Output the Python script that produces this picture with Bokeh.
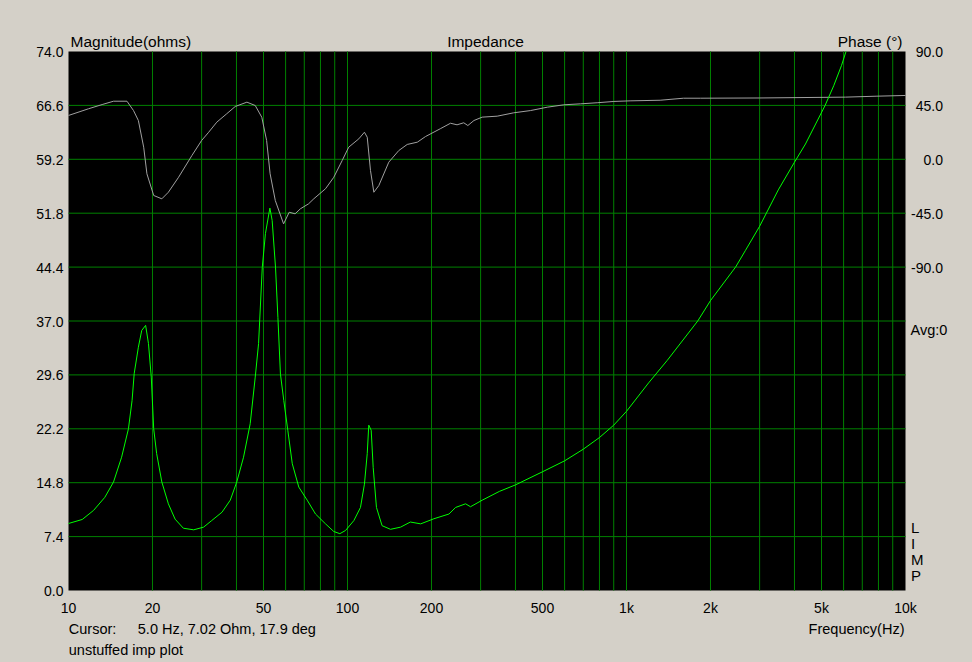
from bokeh.plotting import figure
from bokeh.models import Range1d, Label, GlobalInlineStyleSheet
from bokeh.core.properties import value
from bokeh.embed import file_html
from bokeh.resources import INLINE

# ---------------- data ----------------
X_START, X_END = 10, 10000
MAG_MIN, MAG_MAX = 0.0, 74.0
PH_MIN, PH_MAX = -360.0, 90.0

MAG_TICKS = [0.0, 7.4, 14.8, 22.2, 29.6, 37.0, 44.4, 51.8, 59.2, 66.6, 74.0]
PH_TICKS = [90, 45, 0, -45, -90]
FREQ_TICKS = [10, 20, 50, 100, 200, 500, 1000, 2000, 5000, 10000]
FREQ_LABELS = ["10", "20", "50", "100", "200", "500", "1k", "2k", "5k", "10k"]
FREQ_GRID = [20, 30, 40, 50, 60, 70, 80, 90, 100, 200, 300, 400, 500, 600, 700,
             800, 900, 1000, 2000, 3000, 4000, 5000, 6000, 7000, 8000, 9000]

freq_mag = [10, 11.2, 12.3, 13.5, 14.5, 15.5, 16.4, 16.9, 17.2, 17.8, 18.3, 18.9,
            19.35, 19.8, 20.2, 20.7, 21.6, 22.8, 24.1, 25.8, 28.1, 30.5, 32.6,
            35.5, 38.0, 40.1, 42.4, 44.8, 46.7, 48.0, 49.5, 50.8, 52.7, 53.7,
            55.2, 56.3, 57.5, 59.1, 61.1, 63.4, 66.9, 71.7, 76.8, 83.4, 89.3,
            93.9, 98.4, 105.4, 111.3, 115, 117.7, 119.2, 121.6, 123.6, 127, 133,
            142.6, 155, 168, 183, 204, 231, 244, 265, 276, 304, 350, 400, 500,
            600, 700, 800, 900, 1000, 1200, 1400, 1800, 2000, 2460, 2670, 3000,
            3500, 4000, 4380, 5150, 5530, 5900, 6120]
mag = [9.2, 9.75, 11.0, 12.8, 14.9, 18.3, 22.2, 26.1, 29.8, 33.4, 35.7, 36.4,
       33.9, 29.3, 22.2, 18.8, 14.9, 11.9, 9.8, 8.55, 8.33, 8.7, 9.6,
       10.75, 12.4, 14.9, 18.3, 22.9, 29.3, 33.9, 44.4, 49.0, 52.5, 50.8,
       44.4, 37.5, 29.7, 26.1, 22.0, 17.4, 14.2, 12.4, 10.5, 9.15, 8.1,
       7.8, 8.24, 9.6, 11.4, 14.6, 18.8, 22.7, 22.0, 16.9, 11.4, 8.9,
       8.4, 8.7, 9.4, 9.15, 9.85, 10.5, 11.4, 11.9, 11.5, 12.4, 13.6, 14.5, 16.3,
       17.8, 19.4, 21.0, 22.7, 24.6, 28.5, 31.6, 37.0, 39.8, 44.4, 46.7, 50.0,
       55.0, 58.8, 61.3, 66.6, 69.3, 72.1, 74.0]

freq_ph = [10, 11.8, 13.2, 14.5, 16.2, 17.1, 17.8, 18.6, 19.1, 20.2, 21.6, 22.8,
           24.8, 27.7, 30, 31.8, 34, 36.9, 39.6, 43.6, 46.7, 49.3, 51.3, 52.8,
           55.1, 59, 61.8, 64.9, 67.8, 72.5, 75.7, 83.4, 89.3, 95.7, 101, 109.8,
           115, 117.7, 120.9, 124.3, 129.5, 140.6, 152.7, 163.7, 178, 190.4, 215,
           234, 247, 261, 270, 284, 304, 344, 394, 453, 520, 596, 684, 785, 901,
           1030, 1320, 1600, 1840, 3000, 6100, 7900, 10000]
phase = [36.6, 42.2, 45.7, 48.5, 48.5, 40.7, 32.4, 10.1, -12.1, -30.2, -33.0, -27.5,
         -15.0, 3.2, 15.7, 22.6, 31.0, 38.0, 44.1, 47.7, 44.9, 35.1, 15.7, -12.1,
         -34.4, -53.9, -44.2, -45.5, -41.3, -37.2, -33.0, -24.6, -15.0, -1.0, 10.1, 17.1,
         22.6, 18.4, -9.4, -27.5, -21.9, -2.4, 7.3, 12.4, 14.3, 19.0, 25.5,
         30.1, 28.8, 30.5, 28.2, 32.4, 35.2, 36.0, 38.8, 40.7, 43.5, 45.5, 46.3, 47.2, 48.3,
         48.8, 49.3, 51.0, 51.0, 51.2, 51.9, 52.7, 53.3]

# ---------------- layout (pixels) ----------------
W, H = 972, 662
PX_L, PX_R, PX_T, PX_B = 68, 905, 51, 590   # black plot area in the canvas
DEC_PX = (PX_R - PX_L) / 3.0                  # pixels per decade
OHM_PX = (MAG_MAX - MAG_MIN) / (PX_B - PX_T)  # ohms per pixel
DEG_PX = (PH_MAX - PH_MIN) / (PX_B - PX_T)    # degrees per pixel
LIFT = 5.0                                     # text baseline correction (px)


def fx(px):  # canvas x pixel -> Hz
    return X_START * 10 ** ((px - PX_L) / DEC_PX)


def fy(py):  # canvas y pixel -> ohms
    return MAG_MIN + (PX_B - py) * OHM_PX


def fp(py):  # canvas y pixel -> degrees
    return PH_MIN + (PX_B - py) * DEG_PX


BG = "#d4d0c8"
GRID = "#008000"
FONT = "Liberation Sans"
TXT = "#000000"

p = figure(width=W, height=H, x_axis_type="log",
           x_range=Range1d(fx(0), fx(W)), y_range=Range1d(fy(H), fy(0)),
           x_axis_location=None, y_axis_location=None,
           output_backend="svg", toolbar_location=None, min_border=0,
           background_fill_color=BG, border_fill_color=BG, outline_line_color=None)
p.stylesheets = [GlobalInlineStyleSheet(css="body { background-color: #d4d0c8; }")]
p.extra_y_ranges = {"phase": Range1d(fp(H), fp(0))}
p.grid.grid_line_color = None

# black plot area
p.quad(left=[X_START], right=[X_END], bottom=[MAG_MIN], top=[MAG_MAX],
       fill_color="black", line_color=None)

# grid
n_gx = len(FREQ_GRID)
p.segment(x0=FREQ_GRID, x1=FREQ_GRID, y0=[MAG_MIN] * n_gx, y1=[MAG_MAX] * n_gx,
          line_color=GRID, line_width=1)
inner = MAG_TICKS[1:-1]
p.segment(x0=[X_START] * len(inner), x1=[X_END] * len(inner), y0=inner, y1=inner,
          line_color=GRID, line_width=1)

# curves
p.line(freq_ph, phase, color="#a0a0a0", line_width=1, y_range_name="phase")
p.line(freq_mag, mag, color="#00ff00", line_width=1)

# tick labels
p.text(x=[X_START] * len(MAG_TICKS), y=[t - (5.5 - LIFT) * OHM_PX for t in MAG_TICKS],
       text=[f"{t:.1f}" for t in MAG_TICKS], x_offset=-5,
       text_font=value(FONT), text_font_size=value("14px"), text_color=TXT,
       text_align="right", text_baseline="alphabetic")
p.text(x=[X_END] * len(PH_TICKS), y=[t - (5.7 - LIFT) * DEG_PX for t in PH_TICKS],
       text=[f"{t:.1f}" for t in PH_TICKS], x_offset=37.5, y_range_name="phase",
       text_font=value(FONT), text_font_size=value("14px"), text_color=TXT,
       text_align="right", text_baseline="alphabetic")
p.text(x=FREQ_TICKS, y=[fy(612 - LIFT)] * len(FREQ_TICKS), text=FREQ_LABELS,
       text_font=value(FONT), text_font_size=value("14px"), text_color=TXT,
       text_align="center", text_baseline="alphabetic")


def lab(text, px, py, align="left", size="15.5px"):
    p.add_layout(Label(x=fx(px), y=fy(py - LIFT), text=text, text_font=FONT,
                       text_font_size=size, text_color=TXT,
                       text_align=align, text_baseline="alphabetic"))


lab("Magnitude(ohms)", 70, 45.5)
lab("Impedance", 485, 45.5, "center")
lab("Phase (°)", 902, 45.5, "right")
lab("Avg:0", 910, 334.5, size="14.5px")
for ch, by in zip(["L", "I", "M", "P"], [532.2, 548.0, 564.0, 579.8]):
    lab(ch, 910.5, by, size="15px")
lab("Cursor:", 68.3, 633.5, size="14.5px")
lab("5.0 Hz, 7.02 Ohm, 17.9 deg", 137.3, 633.5, size="14.5px")
lab("unstuffed imp plot", 68.3, 654, size="14.5px")
lab("Frequency(Hz)", 904, 633.5, "right", size="14.5px")

open("out.html", "w").write(file_html(p, INLINE))
